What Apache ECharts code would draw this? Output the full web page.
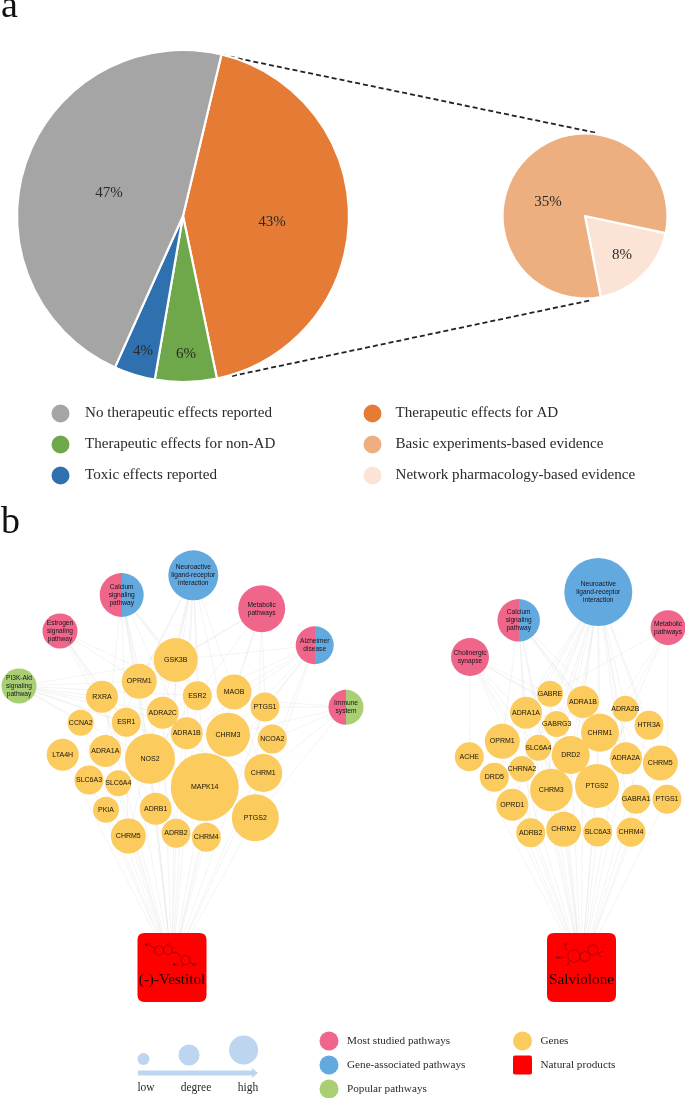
<!DOCTYPE html>
<html>
<head>
<meta charset="utf-8">
<style>html,body{margin:0;padding:0;background:#fff}#c{width:685px;height:1098px}</style>
<script src="https://cdn.jsdelivr.net/npm/echarts@6/dist/echarts.min.js"></script>
</head>
<body>
<div id="c"></div>
<script>
// ---- Panel a values ----
const mainNames = ["Therapeutic effects for AD", "Therapeutic effects for non-AD", "Toxic effects reported", "No therapeutic effects reported"];
const mainValues = [43, 6, 4, 47];
const zoomNames = ["Network pharmacology-based evidence", "Basic experiments-based evidence"];
const zoomValues = [8, 35];

// ---- Panel b values ----
const catNames = ["Most studied pathways", "Gene-associated pathways", "Popular pathways", "Genes", "Natural products"];

const leftPathways = ["Neuroactive\nligand-receptor\ninteraction", "Calcium\nsignaling\npathway", "Metabolic\npathways", "Estrogen\nsignaling\npathway", "Alzheimer\ndisease", "PI3K-Akt\nsignaling\npathway", "Immune\nsystem"];
const leftPathwayDegree = [11, 9, 10, 6, 7, 6, 6];
const leftGenes = ["GSK3B", "OPRM1", "RXRA", "ESR2", "MAOB", "PTGS1", "ADRA2C", "ESR1", "CCNA2", "ADRA1B", "CHRM3", "NCOA2", "LTA4H", "ADRA1A", "NOS2", "CHRM1", "MAPK14", "SLC6A3", "SLC6A4", "PKIA", "ADRB1", "PTGS2", "CHRM5", "ADRB2", "CHRM4"];
const leftGeneDegree = [9, 6, 5, 4, 6, 4, 5, 4, 3, 5, 9, 4, 5, 5, 11, 7, 17, 4, 3, 3, 5, 10, 6, 4, 4];
const leftPathwayGenes = [
  ["GSK3B", "OPRM1", "ADRA2C", "ADRA1B", "CHRM3", "CHRM1", "CHRM4", "CHRM5", "ADRB1", "ADRB2", "ADRA1A", "ESR2"],
  ["GSK3B", "ADRA1A", "ADRA1B", "CHRM1", "CHRM3", "CHRM5", "NOS2", "ADRB1", "ADRB2", "OPRM1"],
  ["MAOB", "PTGS1", "PTGS2", "NOS2", "GSK3B", "MAPK14", "OPRM1"],
  ["ESR1", "ESR2", "OPRM1", "RXRA", "NOS2", "ADRB1"],
  ["GSK3B", "MAPK14", "NOS2", "CHRM3", "CHRM1", "MAOB", "PTGS2", "PTGS1", "ADRA2C"],
  ["GSK3B", "RXRA", "OPRM1", "ESR1", "ESR2", "CCNA2", "NOS2", "CHRM1", "ADRA2C", "CHRM3"],
  ["PTGS1", "PTGS2", "NCOA2", "CHRM3", "ESR2", "CHRM1"]
];

const rightPathways = ["Neuroactive\nligand-receptor\ninteraction", "Calcium\nsignaling\npathway", "Metabolic\npathways", "Cholinergic\nsynapse"];
const rightPathwayDegree = [17, 8.5, 6, 7];
const rightGenes = ["GABRE", "ADRA1B", "ADRA2B", "ADRA1A", "GABRG3", "HTR3A", "CHRM1", "OPRM1", "SLC6A4", "ADRA2A", "CHRM5", "DRD2", "ACHE", "CHRNA2", "DRD5", "CHRM3", "PTGS2", "GABRA1", "PTGS1", "OPRD1", "ADRB2", "CHRM2", "SLC6A3", "CHRM4"];
const rightGeneDegree = [3, 5, 3, 5, 3, 4, 7, 6, 3, 5, 6, 7, 4, 3, 4, 8.5, 9, 4, 4, 5, 4, 6, 4, 4];
const rightPathwayGenes = [
  ["GABRE", "ADRA1B", "ADRA2B", "ADRA1A", "GABRG3", "HTR3A", "CHRM1", "OPRM1", "ADRA2A", "CHRM5", "DRD2", "CHRNA2", "DRD5", "CHRM3", "GABRA1", "OPRD1", "ADRB2", "CHRM2", "CHRM4", "PTGS2"],
  ["ADRA1A", "ADRA1B", "CHRM1", "CHRM5", "CHRM3", "CHRM2", "ADRB2", "ADRA2A", "OPRM1"],
  ["PTGS1", "PTGS2", "GABRE", "ADRA2B", "CHRM1"],
  ["ACHE", "CHRNA2", "CHRM1", "CHRM2", "CHRM3", "CHRM4", "CHRM5", "SLC6A3", "GABRE"]
];
const products = ["(-)-Vestitol", "Salviolone"];

// degree legend
const degreeLegend = [1, 4, 6.7];

// ---- Layout of the networks (position table, pixels of the page scale) ----
const leftLayout = {
  "Neuroactive\nligand-receptor\ninteraction": [193.3, 575.3], "Calcium\nsignaling\npathway": [121.7, 595], "Metabolic\npathways": [261.7, 608.7],
  "Estrogen\nsignaling\npathway": [60, 631], "Alzheimer\ndisease": [314.7, 645.3], "PI3K-Akt\nsignaling\npathway": [19, 686], "Immune\nsystem": [346, 707.3],
  GSK3B: [175.7, 660], OPRM1: [139.3, 681.3], RXRA: [102, 696.7], ESR2: [197.3, 695.7], MAOB: [234, 692], PTGS1: [265, 707], ADRA2C: [162.7, 712.7],
  ESR1: [126.3, 722.3], CCNA2: [80.7, 722.7], ADRA1B: [186.7, 733.3], CHRM3: [228, 734.7], NCOA2: [272.3, 739], LTA4H: [62.7, 754.7], ADRA1A: [105.3, 751],
  NOS2: [150, 758.7], CHRM1: [263.3, 773], MAPK14: [204.7, 787], SLC6A3: [89, 780], SLC6A4: [118.3, 783.3], PKIA: [106, 809.7], ADRB1: [155.7, 808.7],
  PTGS2: [255.3, 817.7], CHRM5: [128.3, 836], ADRB2: [176, 833.3], CHRM4: [206.3, 837.3]
};
const rightLayout = {
  "Neuroactive\nligand-receptor\ninteraction": [598.3, 592], "Calcium\nsignaling\npathway": [518.7, 620.3], "Metabolic\npathways": [668, 627.7], "Cholinergic\nsynapse": [470, 657],
  GABRE: [550, 693.7], ADRA1B: [583, 702], ADRA2B: [625.3, 708.7], ADRA1A: [526, 712.7], GABRG3: [556.7, 724], HTR3A: [649, 725.3], CHRM1: [600, 732.7], OPRM1: [502.3, 741.3],
  SLC6A4: [538.3, 747.7], ADRA2A: [626, 758.3], CHRM5: [660.3, 763], DRD2: [570.7, 755], ACHE: [469.3, 756.7], CHRNA2: [522, 769], DRD5: [494.3, 777.3], CHRM3: [551.3, 790],
  PTGS2: [597, 786], GABRA1: [636, 799.3], PTGS1: [667, 799.3], OPRD1: [512.3, 804.7], ADRB2: [530.7, 832.7], CHRM2: [563.7, 829.3], SLC6A3: [597.7, 832], CHRM4: [631, 832.3]
};
const productPos = [[172, 967.5], [581.5, 967.5]];

// ---- Styles ----
const PINK = "#F0668A", BLUE = "#62A9DF", GREEN = "#A9CF72", GOLD = "#FBCB5E", RED = "#FF0000";
const SERIF = "'Liberation Serif','Times New Roman',serif";
const SANS = "'Liberation Sans',Arial,sans-serif";
const diameter = d => 17 + 3 * d;
const rrect = "path://M10,0H90Q100,0 100,10V90Q100,100 90,100H10Q0,100 0,90V10Q0,0 10,0Z";
const split = (a, b) => ({ type: "linear", x: 0, y: 0, x2: 1, y2: 0, colorStops: [{ offset: 0, color: a }, { offset: 0.5, color: a }, { offset: 0.5, color: b }, { offset: 1, color: b }] });
const pathwayCat = { "Neuroactive\nligand-receptor\ninteraction": 1, "PI3K-Akt\nsignaling\npathway": 2 };
const pathwayColor = {
  "Calcium\nsignaling\npathway": split(PINK, BLUE), "Alzheimer\ndisease": split(PINK, BLUE), "Immune\nsystem": split(PINK, GREEN)
};
const categories = catNames.map((n, i) => ({ name: n, symbol: i === 4 ? rrect : "circle", itemStyle: { color: [PINK, BLUE, GREEN, GOLD, RED][i] } }));

function network(pathways, pDeg, genes, gDeg, pGenes, layout, product, prodPos) {
  const nodes = [];
  pathways.forEach((n, i) => {
    const node = { name: n, value: layout[n], category: pathwayCat[n] === undefined ? 0 : pathwayCat[n], symbolSize: diameter(pDeg[i]),
      label: { fontSize: 6.6, lineHeight: 8, color: "#14141f" } };
    if (pathwayColor[n]) node.itemStyle = { color: pathwayColor[n] };
    nodes.push(node);
  });
  genes.forEach((n, i) => nodes.push({ name: n, value: layout[n], category: 3, symbolSize: diameter(gDeg[i]) }));
  nodes.push({ name: product, value: prodPos, category: 4, symbol: rrect, symbolSize: 69,
    label: { fontFamily: SERIF, fontSize: 15.2, color: "#200000", offset: [0, 13] } });
  const links = [];
  pathways.forEach((p, i) => pGenes[i].forEach(g => links.push({ source: p, target: g })));
  genes.forEach(g => links.push({ source: g, target: product }));
  return {
    type: "graph", coordinateSystem: "cartesian2d", xAxisIndex: 0, yAxisIndex: 0, layout: "none", silent: true, animation: false,
    categories: categories, data: nodes, links: links, z: 3,
    lineStyle: { color: "#c8c8c8", width: 0.5, opacity: 0.42, curveness: 0 },
    label: { show: true, position: "inside", fontFamily: SANS, fontSize: 7, color: "#1a1408", formatter: "{b}" },
    emphasis: { disabled: true }
  };
}

const mainLabelAt = [[272, 222], [186, 354], [143, 351], [109, 193]];
const zoomLabelAt = [[622, 255], [548, 202]];
function pie(names, values, colors, center, radius, startAngle, labelAt, labelColor) {
  return {
    type: "pie", center: center, radius: radius, startAngle: startAngle, clockwise: true, silent: true, animation: false, avoidLabelOverlap: false, z: 2,
    data: names.map((n, i) => ({ name: n, value: values[i], itemStyle: { color: colors[i] } })),
    itemStyle: { borderColor: "#fff", borderWidth: 2.2 },
    label: { show: true, position: "inside", formatter: "{c}%", fontFamily: SERIF, fontSize: 15, color: labelColor },
    labelLine: { show: false },
    labelLayout: p => ({ x: labelAt[p.dataIndex][0], y: labelAt[p.dataIndex][1], align: "center", verticalAlign: "middle" })
  };
}

function dashed(a, b) {
  return { type: "line", xAxisIndex: 0, yAxisIndex: 0, data: [a, b], symbol: "none", silent: true, animation: false, z: 1,
    lineStyle: { color: "#222", width: 1.8, type: [5, 3] } };
}

// small sketches of the two molecules
function hex(cx, cy, r, n) {
  const pts = [];
  for (let i = 0; i < n; i++) { const t = Math.PI * 2 * i / n + Math.PI / 2; pts.push([cx + r * Math.cos(t), cy + r * Math.sin(t)]); }
  return pts;
}
const inkS = { stroke: "#7a0000", lineWidth: 0.6, fill: null };
const poly = pts => ({ type: "polygon", shape: { points: pts }, style: inkS, z: 20, silent: true });
const seg = pts => ({ type: "polyline", shape: { points: pts }, style: inkS, z: 20, silent: true });
const tiny = (t, x, y) => ({ type: "text", x: x, y: y, style: { text: t, font: "3.6px " + SANS, fill: "#3a0000", align: "center", verticalAlign: "middle" }, z: 20, silent: true });
const molecules = [
  poly(hex(159, 950.5, 5, 6)), poly(hex(168, 950, 5, 6)), poly(hex(185.5, 960, 5, 6)),
  seg([[172.5, 952.5], [178, 953], [180.5, 957]]), seg([[154.5, 948], [150, 945.5]]),
  seg([[184, 965], [180, 966.5]]), seg([[190, 962.5], [194, 964.5], [197, 964]]),
  tiny("HO", 147.5, 945), tiny("O", 168.5, 944.5), tiny("HO", 175.5, 965), tiny("O", 194, 964.5),
  poly(hex(574, 956, 6.6, 7)), poly(hex(585, 956.5, 5.4, 6)), poly(hex(593, 950, 5.4, 6)),
  seg([[566, 950], [566, 947]]), seg([[565.5, 957], [562, 957.5]]), seg([[569, 962], [567, 966]]), seg([[598, 953], [604, 951]]), seg([[598, 953], [601, 957]]),
  tiny("O", 565.5, 945), tiny("HO", 559, 958)
];

const lg = { orient: "vertical", padding: 0, selectedMode: false };
const option = {
  backgroundColor: "#fff",
  animation: false,
  grid: { left: 0, right: 0, top: 0, bottom: 0 },
  xAxis: { type: "value", min: 0, max: 685, show: false },
  yAxis: { type: "value", min: 0, max: 1098, inverse: true, show: false },
  legend: [
    Object.assign({}, lg, { left: 49.5, top: 402.5, height: 100, itemWidth: 20, itemHeight: 20, itemGap: 9, icon: "circle",
      data: ["No therapeutic effects reported", "Therapeutic effects for non-AD", "Toxic effects reported"],
      textStyle: { fontFamily: SERIF, fontSize: 15.1, color: "#2a2a2a", padding: [0, 0, 0, 9.5] } }),
    Object.assign({}, lg, { left: 361.5, top: 402.5, height: 100, itemWidth: 20, itemHeight: 20, itemGap: 9, icon: "circle",
      data: ["Therapeutic effects for AD", "Basic experiments-based evidence", "Network pharmacology-based evidence"],
      textStyle: { fontFamily: SERIF, fontSize: 15.1, color: "#2a2a2a", padding: [0, 0, 0, 8] } }),
    Object.assign({}, lg, { left: 319.5, top: 1031.5, height: 80, itemWidth: 19, itemHeight: 19, itemGap: 5, icon: "circle",
      data: catNames.slice(0, 3),
      textStyle: { fontFamily: SERIF, fontSize: 11.2, color: "#2a2a2a", padding: [0, 0, 0, 3.5] } }),
    Object.assign({}, lg, { left: 513, top: 1031.5, height: 80, itemWidth: 19, itemHeight: 19, itemGap: 5,
      data: [{ name: catNames[3], icon: "circle" }, { name: catNames[4], icon: rrect }],
      textStyle: { fontFamily: SERIF, fontSize: 11.2, color: "#2a2a2a", padding: [0, 0, 0, 3.5] } })
  ],
  graphic: [
    { type: "text", x: 1, y: 7, style: { text: "a", font: "38px " + SERIF, fill: "#111", verticalAlign: "middle" }, silent: true },
    { type: "text", x: 1, y: 523, style: { text: "b", font: "38px " + SERIF, fill: "#111", verticalAlign: "middle" }, silent: true },
    { type: "polygon", shape: { points: [[138, 1070.5], [252, 1070.5], [252, 1068], [258, 1073], [252, 1078], [252, 1075.5], [138, 1075.5]] }, style: { fill: "#BDD5EE" }, silent: true },
    { type: "text", x: 146, y: 1088, style: { text: "low", font: "11.5px " + SERIF, fill: "#2a2a2a", align: "center", verticalAlign: "middle" }, silent: true },
    { type: "text", x: 196, y: 1088, style: { text: "degree", font: "11.5px " + SERIF, fill: "#2a2a2a", align: "center", verticalAlign: "middle" }, silent: true },
    { type: "text", x: 248, y: 1088, style: { text: "high", font: "11.5px " + SERIF, fill: "#2a2a2a", align: "center", verticalAlign: "middle" }, silent: true }
  ].concat(molecules),
  series: [
    dashed([222, 55], [597, 133]),
    dashed([232, 376], [592, 300]),
    pie(mainNames, mainValues, ["#E57B34", "#6FA84A", "#2F70AF", "#A5A5A5"], [183, 216], 166, 76.6, mainLabelAt, "#2a2a2a"),
    pie(zoomNames, zoomValues, ["#FBE3D5", "#EDAE80"], [585, 216], 82.5, -12, zoomLabelAt, "#2a2a2a"),
    network(leftPathways, leftPathwayDegree, leftGenes, leftGeneDegree, leftPathwayGenes, leftLayout, products[0], productPos[0]),
    network(rightPathways, rightPathwayDegree, rightGenes, rightGeneDegree, rightPathwayGenes, rightLayout, products[1], productPos[1]),
    { type: "scatter", xAxisIndex: 0, yAxisIndex: 0, silent: true, animation: false, z: 3, itemStyle: { color: "#BDD5EE", opacity: 1 },
      data: [[143.5, 1059, degreeLegend[0]], [189, 1055, degreeLegend[1]], [243.6, 1050, degreeLegend[2]]],
      symbolSize: v => diameter(v[2]) - 8 }
  ]
};
echarts.init(document.getElementById("c"), null, { renderer: "canvas" }).setOption(option);
</script>
</body>
</html>
